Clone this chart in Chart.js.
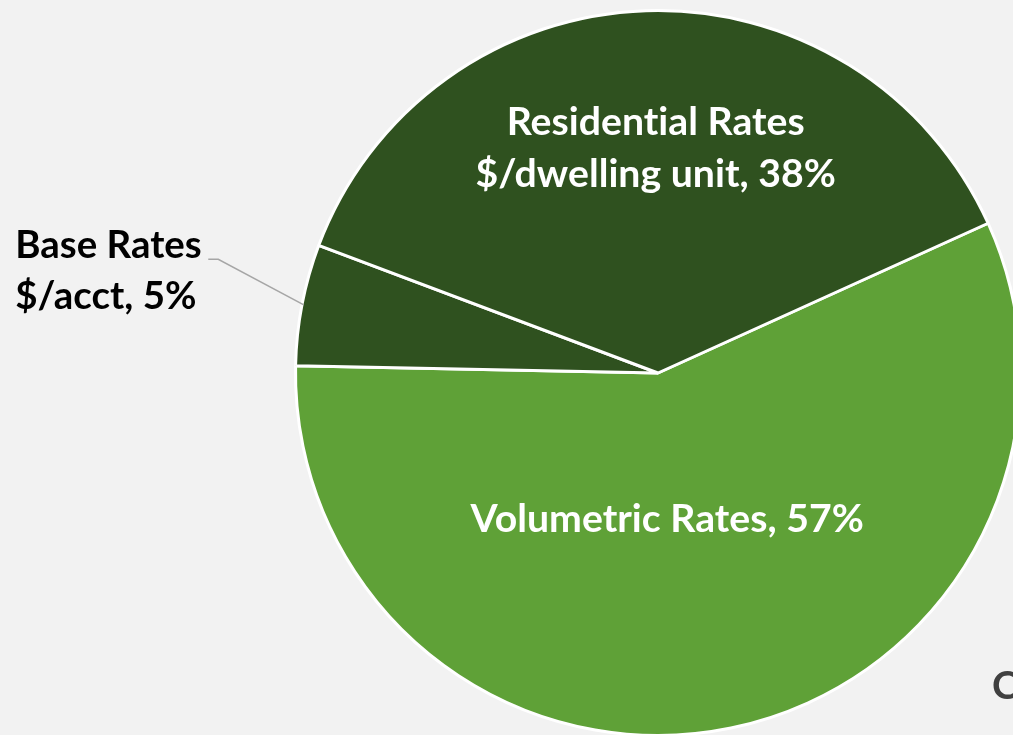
<!DOCTYPE html>
<html><head><meta charset="utf-8">
<script src="https://cdn.jsdelivr.net/npm/chart.js@4"></script>
<style>
html,body{margin:0;padding:0;background:#f2f2f2;overflow:hidden;width:1013px;height:735px}
#wrap{position:absolute;left:0;top:0;width:1040px;height:760px}
</style></head><body>
<div id="wrap"><canvas id="c"></canvas></div>
<script>
const categories = ['Volumetric Rates', 'Base Rates', 'Residential Rates'];
const subLabels = ['', '$/acct', '$/dwelling unit'];
const shares = [57.1, 5.4, 37.5];
const colors = ['#5fa137', '#2f511f', '#2f511f'];
const cornerText = 'C';

const FAM = 'Lato, "Open Sans", "DejaVu Sans", sans-serif';
const FONT_PX = 39, CAP = 28, LINE_H = 52;

function labelLinesFor(i) {
  const pct = Math.round(shares[i]) + '%';
  return subLabels[i] ? [categories[i], subLabels[i] + ', ' + pct] : [categories[i] + ', ' + pct];
}

function drawScaled(ctx, text, x, y, sx, align) {
  const w = ctx.measureText(text).width * sx;
  let x0 = x;
  if (align === 'center') x0 = x - w / 2;
  else if (align === 'right') x0 = x - w;
  ctx.save();
  ctx.translate(x0, y);
  ctx.scale(sx, 1);
  ctx.textAlign = 'left';
  ctx.fillText(text, 0, 0);
  ctx.restore();
}

const labelPlugin = {
  id: 'sliceLabels',
  afterDatasetsDraw(chart) {
    const ctx = chart.ctx;
    const arcs = chart.getDatasetMeta(0).data;
    ctx.save();
    ctx.font = 'bold ' + FONT_PX + 'px ' + FAM;
    if ('letterSpacing' in ctx) ctx.letterSpacing = '0.01px';
    ctx.textBaseline = 'alphabetic';
    const sx = 298 / ctx.measureText(categories[2]).width;
    // inside labels: [fraction of radius, angle shift in degrees]
    const inside = {0: [0.40, 8], 2: [0.623, 1.3]};
    arcs.forEach((arc, i) => {
      const p = arc.getProps(['x', 'y', 'startAngle', 'endAngle', 'outerRadius']);
      const mid = (p.startAngle + p.endAngle) / 2;
      const lines = labelLinesFor(i);
      if (inside[i]) {
        const [f, sh] = inside[i];
        const a = mid + sh * Math.PI / 180;
        const cx = p.x + Math.cos(a) * p.outerRadius * f;
        const cy = p.y + Math.sin(a) * p.outerRadius * f;
        ctx.fillStyle = '#ffffff';
        lines.forEach((t, k) => {
          const by = cy + (k - (lines.length - 1) / 2) * LINE_H + CAP / 2;
          drawScaled(ctx, t, cx, by, sx, 'center');
        });
      } else {
        const a0 = mid;
        const sxp = p.x + Math.cos(a0) * p.outerRadius * 0.995;
        const syp = p.y + Math.sin(a0) * p.outerRadius * 0.995;
        const a1 = 194.5 * Math.PI / 180;
        const ex = p.x + Math.cos(a1) * p.outerRadius * 1.253;
        const ey = p.y + Math.sin(a1) * p.outerRadius * 1.253;
        ctx.strokeStyle = '#a6a6a6';
        ctx.lineWidth = 1.5;
        ctx.beginPath();
        ctx.moveTo(sxp, syp);
        ctx.lineTo(ex, ey);
        ctx.lineTo(ex - 10, ey);
        ctx.stroke();
        ctx.fillStyle = '#000000';
        const tx = ex - 10 - 193;
        lines.forEach((t, k) => {
          drawScaled(ctx, t, tx, ey - 1 + k * 51, sx * 0.98, 'left');
        });
      }
    });
    ctx.fillStyle = '#404040';
    drawScaled(ctx, cornerText, 992, 699, sx, 'left');
    ctx.restore();
  }
};

new Chart(document.getElementById('c'), {
  type: 'pie',
  data: {
    labels: categories,
    datasets: [{
      data: shares,
      backgroundColor: colors,
      borderColor: '#ffffff',
      borderWidth: 3,
      hoverOffset: 0
    }]
  },
  options: {
    responsive: true,
    maintainAspectRatio: false,
    animation: false,
    rotation: 65.6,
    layout: { padding: { left: 294, top: 9, right: 18, bottom: 23 } },
    plugins: { legend: { display: false }, tooltip: { enabled: false } },
    events: []
  },
  plugins: [labelPlugin]
});
</script>
</body></html>
